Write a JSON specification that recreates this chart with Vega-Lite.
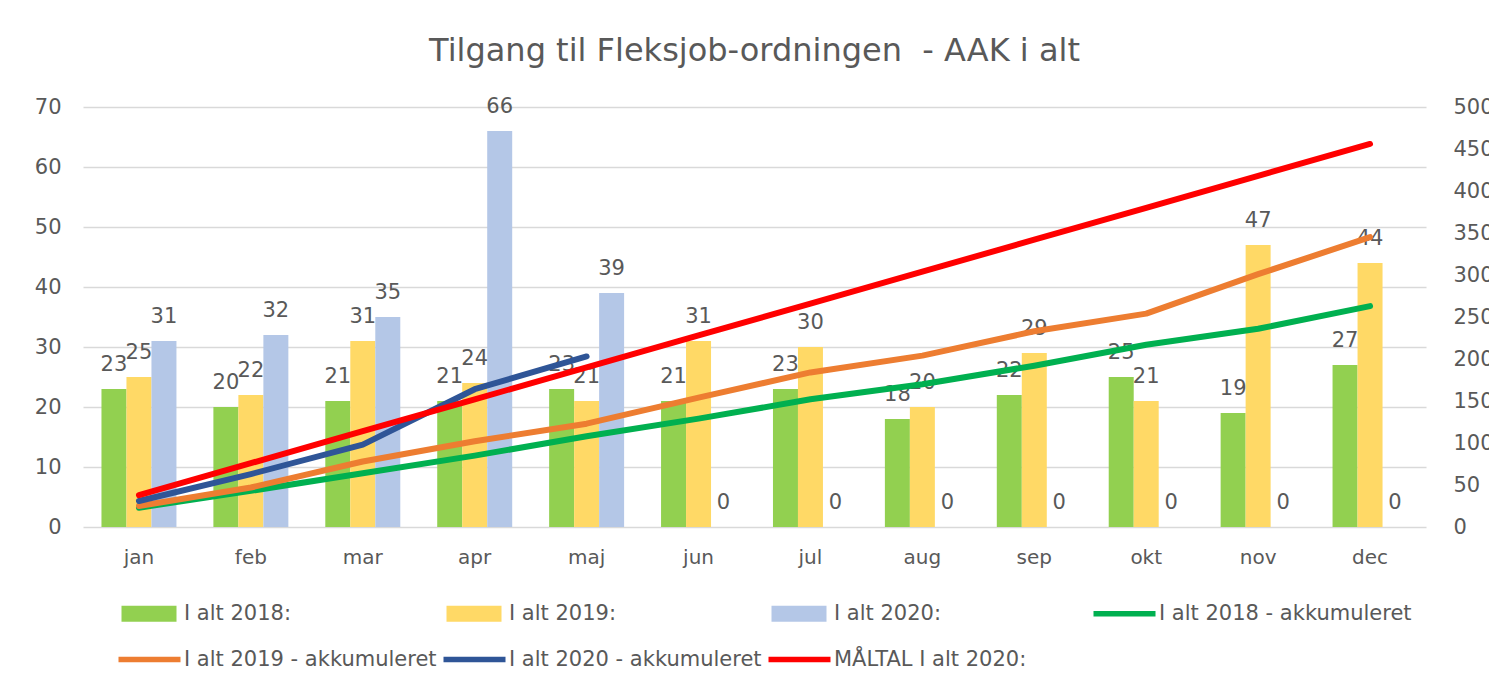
{
  "$schema": "https://vega.github.io/schema/vega-lite/v6.json",
  "width": 1343,
  "height": 420,
  "autosize": {"type": "none"},
  "padding": {"left": 83, "top": 107, "right": 63, "bottom": 163},
  "background": "white",
  "title": {"text": "Tilgang til Fleksjob-ordningen\u00a0 - AAK i alt", "font": "DejaVu Sans", "fontSize": 32, "fontWeight": "normal", "color": "#595959", "anchor": "middle", "offset": 28},
  "config": {"font": "DejaVu Sans", "view": {"stroke": null}},
  "datasets": {
    "bars": [
      {"month": "jan", "series": "I alt 2018:", "value": 23},
      {"month": "feb", "series": "I alt 2018:", "value": 20},
      {"month": "mar", "series": "I alt 2018:", "value": 21},
      {"month": "apr", "series": "I alt 2018:", "value": 21},
      {"month": "maj", "series": "I alt 2018:", "value": 23},
      {"month": "jun", "series": "I alt 2018:", "value": 21},
      {"month": "jul", "series": "I alt 2018:", "value": 23},
      {"month": "aug", "series": "I alt 2018:", "value": 18},
      {"month": "sep", "series": "I alt 2018:", "value": 22},
      {"month": "okt", "series": "I alt 2018:", "value": 25},
      {"month": "nov", "series": "I alt 2018:", "value": 19},
      {"month": "dec", "series": "I alt 2018:", "value": 27},
      {"month": "jan", "series": "I alt 2019:", "value": 25},
      {"month": "feb", "series": "I alt 2019:", "value": 22},
      {"month": "mar", "series": "I alt 2019:", "value": 31},
      {"month": "apr", "series": "I alt 2019:", "value": 24},
      {"month": "maj", "series": "I alt 2019:", "value": 21},
      {"month": "jun", "series": "I alt 2019:", "value": 31},
      {"month": "jul", "series": "I alt 2019:", "value": 30},
      {"month": "aug", "series": "I alt 2019:", "value": 20},
      {"month": "sep", "series": "I alt 2019:", "value": 29},
      {"month": "okt", "series": "I alt 2019:", "value": 21},
      {"month": "nov", "series": "I alt 2019:", "value": 47},
      {"month": "dec", "series": "I alt 2019:", "value": 44},
      {"month": "jan", "series": "I alt 2020:", "value": 31},
      {"month": "feb", "series": "I alt 2020:", "value": 32},
      {"month": "mar", "series": "I alt 2020:", "value": 35},
      {"month": "apr", "series": "I alt 2020:", "value": 66},
      {"month": "maj", "series": "I alt 2020:", "value": 39},
      {"month": "jun", "series": "I alt 2020:", "value": 0},
      {"month": "jul", "series": "I alt 2020:", "value": 0},
      {"month": "aug", "series": "I alt 2020:", "value": 0},
      {"month": "sep", "series": "I alt 2020:", "value": 0},
      {"month": "okt", "series": "I alt 2020:", "value": 0},
      {"month": "nov", "series": "I alt 2020:", "value": 0},
      {"month": "dec", "series": "I alt 2020:", "value": 0}
    ],
    "lines": [
      {"month": "jan", "series": "I alt 2018 - akkumuleret", "value": 23},
      {"month": "feb", "series": "I alt 2018 - akkumuleret", "value": 43},
      {"month": "mar", "series": "I alt 2018 - akkumuleret", "value": 64},
      {"month": "apr", "series": "I alt 2018 - akkumuleret", "value": 85},
      {"month": "maj", "series": "I alt 2018 - akkumuleret", "value": 108},
      {"month": "jun", "series": "I alt 2018 - akkumuleret", "value": 129},
      {"month": "jul", "series": "I alt 2018 - akkumuleret", "value": 152},
      {"month": "aug", "series": "I alt 2018 - akkumuleret", "value": 170},
      {"month": "sep", "series": "I alt 2018 - akkumuleret", "value": 192},
      {"month": "okt", "series": "I alt 2018 - akkumuleret", "value": 217},
      {"month": "nov", "series": "I alt 2018 - akkumuleret", "value": 236},
      {"month": "dec", "series": "I alt 2018 - akkumuleret", "value": 263},
      {"month": "jan", "series": "I alt 2019 - akkumuleret", "value": 25},
      {"month": "feb", "series": "I alt 2019 - akkumuleret", "value": 47},
      {"month": "mar", "series": "I alt 2019 - akkumuleret", "value": 78},
      {"month": "apr", "series": "I alt 2019 - akkumuleret", "value": 102},
      {"month": "maj", "series": "I alt 2019 - akkumuleret", "value": 123},
      {"month": "jun", "series": "I alt 2019 - akkumuleret", "value": 154},
      {"month": "jul", "series": "I alt 2019 - akkumuleret", "value": 184},
      {"month": "aug", "series": "I alt 2019 - akkumuleret", "value": 204},
      {"month": "sep", "series": "I alt 2019 - akkumuleret", "value": 233},
      {"month": "okt", "series": "I alt 2019 - akkumuleret", "value": 254},
      {"month": "nov", "series": "I alt 2019 - akkumuleret", "value": 301},
      {"month": "dec", "series": "I alt 2019 - akkumuleret", "value": 345},
      {"month": "jan", "series": "I alt 2020 - akkumuleret", "value": 31},
      {"month": "feb", "series": "I alt 2020 - akkumuleret", "value": 63},
      {"month": "mar", "series": "I alt 2020 - akkumuleret", "value": 98},
      {"month": "apr", "series": "I alt 2020 - akkumuleret", "value": 164},
      {"month": "maj", "series": "I alt 2020 - akkumuleret", "value": 203},
      {"month": "jan", "series": "MÅLTAL I alt 2020:", "value": 38},
      {"month": "feb", "series": "MÅLTAL I alt 2020:", "value": 76},
      {"month": "mar", "series": "MÅLTAL I alt 2020:", "value": 114},
      {"month": "apr", "series": "MÅLTAL I alt 2020:", "value": 152},
      {"month": "maj", "series": "MÅLTAL I alt 2020:", "value": 190},
      {"month": "jun", "series": "MÅLTAL I alt 2020:", "value": 228},
      {"month": "jul", "series": "MÅLTAL I alt 2020:", "value": 266},
      {"month": "aug", "series": "MÅLTAL I alt 2020:", "value": 304},
      {"month": "sep", "series": "MÅLTAL I alt 2020:", "value": 342},
      {"month": "okt", "series": "MÅLTAL I alt 2020:", "value": 380},
      {"month": "nov", "series": "MÅLTAL I alt 2020:", "value": 418},
      {"month": "dec", "series": "MÅLTAL I alt 2020:", "value": 456}
    ]
  },
  "layer": [
    {
      "data": {"name": "bars"},
      "mark": {"type": "bar"},
      "encoding": {
        "x": {"field": "month", "type": "nominal", "sort": ["jan","feb","mar","apr","maj","jun","jul","aug","sep","okt","nov","dec"], "scale": {"paddingInner": 0.33, "paddingOuter": 0.165}, "axis": {"title": null, "labelAngle": 0, "domain": false, "ticks": false, "labelPadding": 20, "labelFontSize": 20, "labelColor": "#595959", "labelFont": "DejaVu Sans"}},
        "xOffset": {"field": "series", "type": "nominal", "scale": {"domain": ["I alt 2018:", "I alt 2019:", "I alt 2020:"], "paddingInner": 0, "paddingOuter": 0}},
        "y": {"field": "value", "type": "quantitative", "scale": {"domain": [0, 70]}, "axis": {"title": null, "values": [0,10,20,30,40,50,60,70], "domain": false, "ticks": false, "labelPadding": 22, "labelFontSize": 21, "labelColor": "#595959", "labelFont": "DejaVu Sans", "gridColor": "#d9d9d9", "gridWidth": 1.5}},
        "color": {
          "field": "series", "type": "nominal",
          "scale": {
            "domain": ["I alt 2018:", "I alt 2019:", "I alt 2020:", "I alt 2018 - akkumuleret", "I alt 2019 - akkumuleret", "I alt 2020 - akkumuleret", "MÅLTAL I alt 2020:"],
            "range": ["#92D050", "#FFD966", "#B4C7E7", "#00B050", "#ED7D31", "#2F5597", "#FF0000"]
          },
          "legend": {
            "title": null, "orient": "none", "legendX": 38, "legendY": 496, "direction": "horizontal", "columns": 4, "gridAlign": "all",
            "columnPadding": 6, "rowPadding": 24, "padding": 0,
            "symbolSize": 400, "labelOffset": 42, "labelFontSize": 21, "labelColor": "#595959", "labelFont": "DejaVu Sans", "labelLimit": 400,
            "encode": {
              "symbols": {
                "update": {
                  "shape": {"signal": "(indexof(datum.value, 'akk') >= 0 || indexof(datum.value, 'MÅL') >= 0) ? 'M-1.3,-0.28H4.9V0.28H-1.3Z' : 'M-1,-0.8H4.5V0.8H-1Z'"},
                  "fill": {"scale": "color", "field": "value"},
                  "stroke": {"value": "transparent"},
                  "strokeWidth": {"value": 0},
                  "opacity": {"value": 1}
                }
              }
            }
          }
        }
      }
    },
    {
      "data": {"name": "bars"},
      "mark": {"type": "text", "baseline": "alphabetic", "dy": -18, "fontSize": 21, "font": "DejaVu Sans", "color": "#595959"},
      "encoding": {
        "x": {"field": "month", "type": "nominal", "sort": ["jan","feb","mar","apr","maj","jun","jul","aug","sep","okt","nov","dec"]},
        "xOffset": {"field": "series", "type": "nominal"},
        "y": {"field": "value", "type": "quantitative", "scale": {"domain": [0, 70]}, "axis": null},
        "text": {"field": "value", "type": "quantitative"}
      }
    },
    {
      "data": {"name": "lines"},
      "mark": {"type": "line", "strokeWidth": 6, "strokeCap": "round", "strokeJoin": "round"},
      "encoding": {
        "x": {"field": "month", "type": "nominal", "sort": ["jan","feb","mar","apr","maj","jun","jul","aug","sep","okt","nov","dec"]},
        "y": {"field": "value", "type": "quantitative", "scale": {"domain": [0, 500]}, "axis": {"orient": "right", "title": null, "values": [0,50,100,150,200,250,300,350,400,450,500], "domain": false, "ticks": false, "grid": false, "labelPadding": 27, "labelFontSize": 21, "labelColor": "#595959", "labelFont": "DejaVu Sans"}},
        "color": {"field": "series", "type": "nominal"}
      }
    }
  ],
  "resolve": {"scale": {"y": "independent"}}
}
